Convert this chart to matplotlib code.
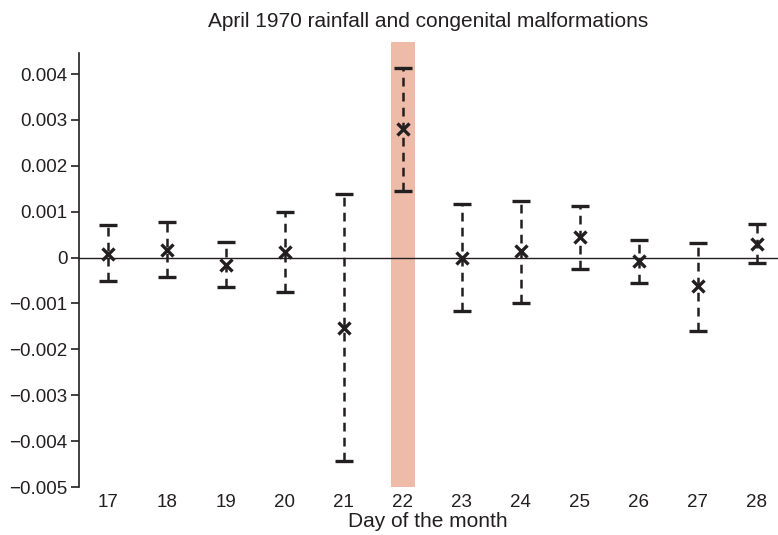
import matplotlib.pyplot as plt

plt.rcParams['font.family'] = ['Liberation Sans', 'DejaVu Sans']

days = [17, 18, 19, 20, 21, 22, 23, 24, 25, 26, 27, 28]
estimate = [0.00007, 0.00017, -0.00015, 0.00013, -0.00153, 0.00281,
            0.0, 0.00015, 0.00046, -0.00008, -0.00061, 0.0003]
upper = [0.00071, 0.00078, 0.00035, 0.00100, 0.00138, 0.00414,
         0.00116, 0.00123, 0.00112, 0.00038, 0.00032, 0.00073]
lower = [-0.00050, -0.00043, -0.00065, -0.00075, -0.00443, 0.00146,
         -0.00117, -0.00100, -0.00024, -0.00055, -0.00160, -0.00011]
rain_day = 22
yticks = [0.004, 0.003, 0.002, 0.001, 0, -0.001, -0.002, -0.003, -0.004, -0.005]

ink = '#231f20'

fig = plt.figure(figsize=(7.78, 5.35), dpi=100)
ax = fig.add_axes([0.1009, 0.0897, 0.8991, 0.8318])

ax.axvspan(rain_day - 0.21, rain_day + 0.21, color='#edbba8', lw=0, zorder=0)
ax.axhline(0, color=ink, lw=1.0, zorder=1)

yerr = [[e - l for e, l in zip(estimate, lower)],
        [u - e for e, u in zip(estimate, upper)]]
eb = ax.errorbar(days, estimate, yerr=yerr, fmt='x', color=ink, ms=9, mew=2.4,
                 ecolor=ink, elinewidth=1.8, capsize=6.5, capthick=2.6, zorder=3)
eb[2][0].set_linestyle((0, (3.5, 2.5)))

ax.set_xlim(16.5, 28.36)
ax.set_ylim(-0.005, 0.0047)
ax.set_yticks(yticks)
ax.set_yticklabels(['0' if t == 0 else f'{t:.3f}'.replace('-', '\u2212') for t in yticks])
ax.set_xticks(days)
ax.set_xticklabels([str(d) for d in days])

for s in ['top', 'right', 'bottom']:
    ax.spines[s].set_visible(False)
ax.spines['left'].set_bounds(-0.005, 0.00445)
ax.spines['left'].set_color(ink)
ax.spines['left'].set_linewidth(1.2)
ax.tick_params(axis='y', length=6, width=1.2, color=ink, labelsize=13.5, labelcolor=ink, pad=2)
ax.tick_params(axis='x', length=0, labelsize=13.5, labelcolor=ink, pad=5)

ax.set_title('April 1970 rainfall and congenital malformations', fontsize=15,
             color=ink, pad=11, x=0.5)
ax.set_xlabel('Day of the month', fontsize=15, color=ink, labelpad=1, x=0.5)

fig.savefig('out.png', dpi=100)
